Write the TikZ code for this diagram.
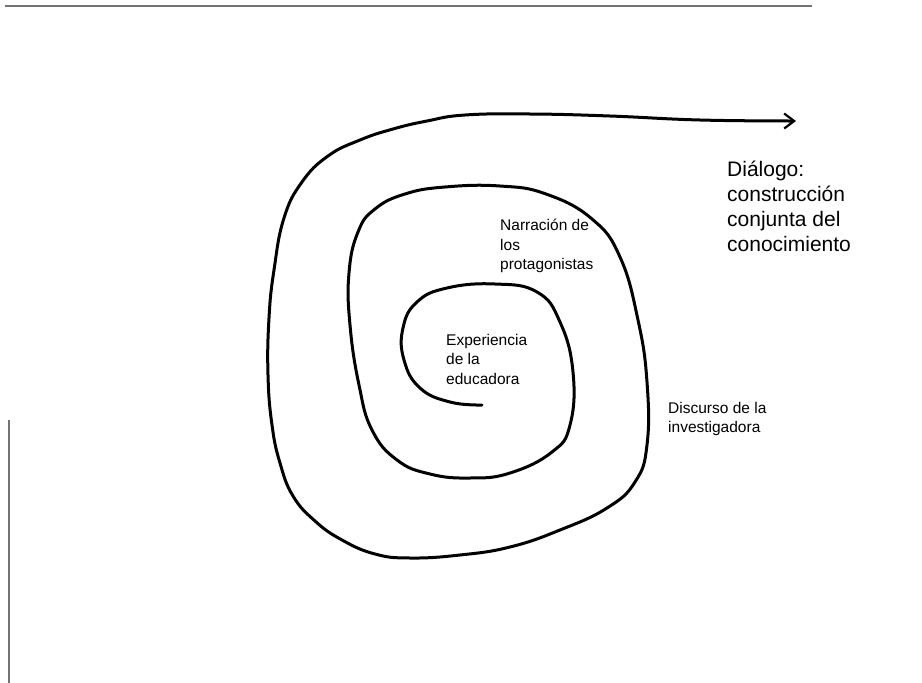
\documentclass[tikz,border=0pt]{standalone}
\usepackage{fontspec}
\setmainfont{Liberation Sans}
\usetikzlibrary{arrows.meta}

\tikzset{
  spiral/.style={line width=3pt,line cap=round,line join=round},
  lbl/.style={anchor=north west,inner sep=0pt,align=left},
  small/.style={font=\fontsize{15.5}{19.5}\selectfont},
  big/.style={font=\fontsize{21}{25}\selectfont},
  scanedge/.style={black!55,line width=1.6pt}
}

\begin{document}
\begin{tikzpicture}[x=1pt,y=-1pt]
\useasboundingbox (0,0) rectangle (922,683);
% edges of the scanned page
\coordinate (topL) at (5,6);
\coordinate (topR) at (812,6);
\coordinate (leftT) at (9,420);
\coordinate (leftB) at (9,683);
\draw[scanedge] (topL) -- (topR);
\draw[scanedge] (leftT) -- (leftB);
% one spiral, from the inner end out to the arrow
\draw[spiral,-{Straight Barb[length=10pt,width=15pt,line width=2.2pt]}]
  plot[smooth,tension=0.75] coordinates {
  (482,405) (450,402) (420,388) (404,360) (403,328) (417,302) (447,288)
  (495,284) (537,292) (560,322) (573,372) (570,425) (552,452) (510,473)
  (470,478) (430,474) (397,460) (372,430) (359,385) (350,325) (349,273)
  (358,232) (375,209) (405,194) (445,187) (500,186) (546,194) (592,219)
  (620,257) (638,320) (647,382) (647,445) (635,482) (607,508) (560,530)
  (510,547) (460,555) (410,558) (375,554) (342,540) (315,521) (293,496)
  (280,463) (272,425) (268,375) (269,318) (274,270) (284,218) (302,182)
  (328,156) (360,140) (393,129) (427,121) (465,115) (530,114) (610,116)
  (700,120) (796,121)};
% labels of the three turns and of the way out
\node[lbl,small] (educ) at (446,334) {Experiencia\\de la\\educadora};
\node[lbl,small] (prot) at (500,219) {Narración de\\los\\protagonistas};
\node[lbl,small] (inv) at (668,402) {Discurso de la\\investigadora};
\node[lbl,big] (dial) at (727,161) {Diálogo:\\construcción\\conjunta del\\conocimiento};
\end{tikzpicture}
\end{document}
